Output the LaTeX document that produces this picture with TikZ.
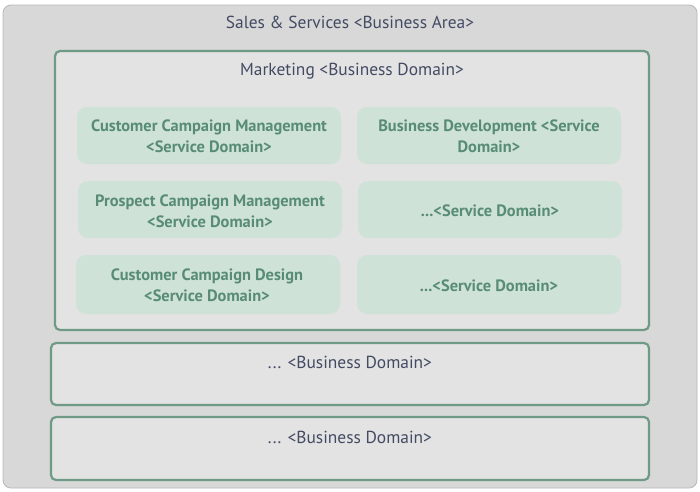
\documentclass[tikz,border=0pt]{standalone}
\usepackage{fontspec}
\setmainfont{PT Sans}
\begin{document}
\begin{tikzpicture}[x=1pt,y=-1pt,
  areabox/.style={draw=areaborder,line width=0.8pt,fill=areafill,rounded corners=8pt},
  domainbox/.style={draw=domborder,line width=2.2pt,fill=domfill,rounded corners=5pt},
  sdbox/.style={fill=sdfill,rounded corners=10pt},
  sdtext/.style={text=sdtextc,font=\bfseries\fontsize{16.4}{21}\selectfont,align=center},
  lbl/.style={text=lblc,font=\fontsize{17.4}{21}\selectfont}]
\definecolor{areaborder}{HTML}{B8B8B8}
\definecolor{areafill}{HTML}{D8D8D8}
\definecolor{domborder}{HTML}{6E9A86}
\definecolor{domfill}{HTML}{E3E3E3}
\definecolor{sdfill}{HTML}{CEE2D8}
\definecolor{sdtextc}{HTML}{588C74}
\definecolor{lblc}{HTML}{434B63}
\fill[white] (0,0) rectangle (700,491);
\useasboundingbox (0,0) rectangle (700,491);
% area
\draw[areabox] (3,5) rectangle (697,488);
\node[lbl] (area) at (350,22) {Sales \& Services <Business Area>};
% marketing domain
\draw[domainbox] (55,51) rectangle (649,330);
\node[lbl] (mkt) at (352,71) {Marketing <Business Domain>};
% service domains
\fill[sdbox] (77,107) rectangle (341,164);
\node[sdtext] (s1) at (209,136) {Customer Campaign Management\\<Service Domain>};
\fill[sdbox] (357,107) rectangle (621,164);
\node[sdtext] (s2) at (489,136) {Business Development <Service\\Domain>};
\fill[sdbox] (78,181) rectangle (342,238);
\node[sdtext] (s3) at (210,211) {Prospect Campaign Management\\<Service Domain>};
\fill[sdbox] (358,181) rectangle (622,238);
\node[sdtext] (s4) at (490,211) {...<Service Domain>};
\fill[sdbox] (76,255) rectangle (340,314);
\node[sdtext] (s5) at (207,285) {Customer Campaign Design\\<Service Domain>};
\fill[sdbox] (357,255) rectangle (621,314);
\node[sdtext] (s6) at (489,286) {...<Service Domain>};
% other domains
\draw[domainbox] (51,343) rectangle (649,405);
\node[lbl] (d2) at (350,362) {... <Business Domain>};
\draw[domainbox] (51,417) rectangle (649,480);
\node[lbl] (d3) at (350,437) {... <Business Domain>};
\end{tikzpicture}
\end{document}
